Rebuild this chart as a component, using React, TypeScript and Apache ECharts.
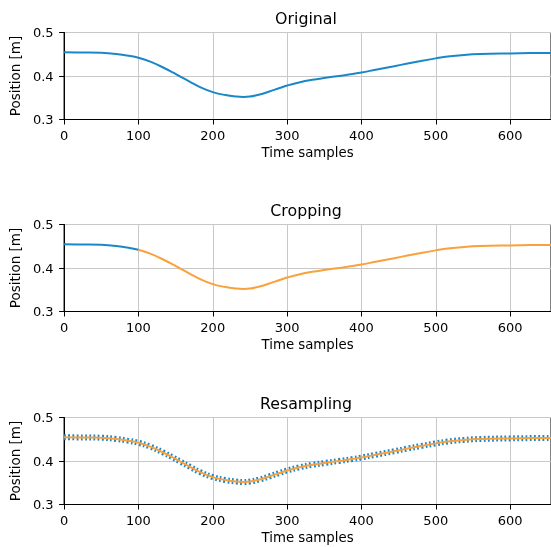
import React, { useEffect, useRef } from "react";
import * as echarts from "echarts";

const samples = [0, 25, 50, 70, 85, 100, 116, 134, 147, 156, 170, 183, 200, 217, 232, 241, 250, 263, 276, 290, 300, 316, 334, 352, 370, 388, 400, 419, 444, 462, 480, 500, 516, 538, 560, 600, 627, 655];
const position = [0.4544, 0.4542, 0.4535, 0.4508, 0.4469, 0.442, 0.433, 0.419, 0.4075, 0.399, 0.386, 0.3745, 0.363, 0.3562, 0.3527, 0.3518, 0.3528, 0.3575, 0.3645, 0.3725, 0.378, 0.3852, 0.3912, 0.3958, 0.4002, 0.4045, 0.408, 0.4143, 0.4225, 0.4287, 0.4345, 0.4405, 0.4448, 0.4485, 0.4506, 0.452, 0.4526, 0.4528];
const cropStart = 100;
const titles = ["Original", "Cropping", "Resampling"];
const xLabel = "Time samples";
const yLabel = "Position [m]";

const BLUE = "#1a87c9";
const ORANGE = "#faa03c";
const FONT = "DejaVu Sans";

export default function App() {
  const ref = useRef<HTMLDivElement>(null);
  useEffect(() => {
    if (!ref.current) return;
    const chart = echarts.init(ref.current, undefined, { renderer: "svg" });
    const pts = samples.map((s, i) => [s, position[i]]);
    const before = pts.filter((p) => p[0] <= cropStart);
    const after = pts.filter((p) => p[0] >= cropStart);
    const tops = [32.5, 224.5, 417.5];
    const heights = [87, 87, 87];
    const grids = tops.map((t, i) => ({
      left: 61.5,
      right: -1,
      top: t,
      height: heights[i],
      show: true,
      borderColor: "#000",
      borderWidth: 1,
      backgroundColor: "transparent",
    }));
    const xAxes = tops.map((_, i) => ({
      type: "value",
      gridIndex: i,
      min: 0,
      max: 655,
      interval: 100,
      name: xLabel,
      nameLocation: "middle",
      nameGap: 26.5,
      nameTextStyle: { fontFamily: FONT, fontSize: 13.3, color: "#000" },
      axisLine: { show: true, lineStyle: { color: "#000", width: 1 } },
      axisTick: { show: true, length: 5, lineStyle: { color: "#000" } },
      axisLabel: { fontFamily: FONT, fontSize: 13, color: "#000", margin: 9.5, showMaxLabel: false },
      splitLine: { show: true, lineStyle: { color: "#c8c8c8", width: 1 } },
    }));
    const yAxes = tops.map((_, i) => ({
      type: "value",
      gridIndex: i,
      min: 0.3,
      max: 0.5,
      interval: 0.1,
      name: yLabel,
      nameLocation: "middle",
      nameRotate: 90,
      nameGap: 39,
      nameTextStyle: { fontFamily: FONT, fontSize: 13.5, color: "#000" },
      axisLine: { show: true, lineStyle: { color: "#000", width: 1 } },
      axisTick: { show: true, length: 5, lineStyle: { color: "#000" } },
      axisLabel: { fontFamily: FONT, fontSize: 13, color: "#000", margin: 10.5, formatter: (v: number) => v.toFixed(1) },
      splitLine: { show: true, lineStyle: { color: "#c8c8c8", width: 1 } },
    }));
    const line = (data: number[][], idx: number, color: string, extra: any = {}) => ({
      type: "line",
      xAxisIndex: idx,
      yAxisIndex: idx,
      data,
      showSymbol: false,
      smooth: 0.4,
      lineStyle: { color, width: 2, ...extra },
      itemStyle: { color },
      silent: true,
    });
    chart.setOption({
      animation: false,
      graphic: titles.map((t, i) => ({
        type: "text",
        x: 306,
        y: tops[i] - 14,
        style: {
          text: t,
          fontFamily: FONT,
          fontSize: 15.8,
          fill: "#000",
          textAlign: "center",
          textVerticalAlign: "middle",
        },
      })),
      grid: grids,
      xAxis: xAxes,
      yAxis: yAxes,
      series: [
        line(pts, 0, BLUE),
        line(before, 1, BLUE),
        line(after, 1, ORANGE),
        line(pts, 2, BLUE, { width: 6, type: [1.8, 2.4], cap: "butt" }),
        line(pts, 2, ORANGE),
      ],
    });
    return () => chart.dispose();
  }, []);
  return <div ref={ref} style={{ position: "fixed", left: 0, top: 0, width: 551, height: 547 }} />;
}
